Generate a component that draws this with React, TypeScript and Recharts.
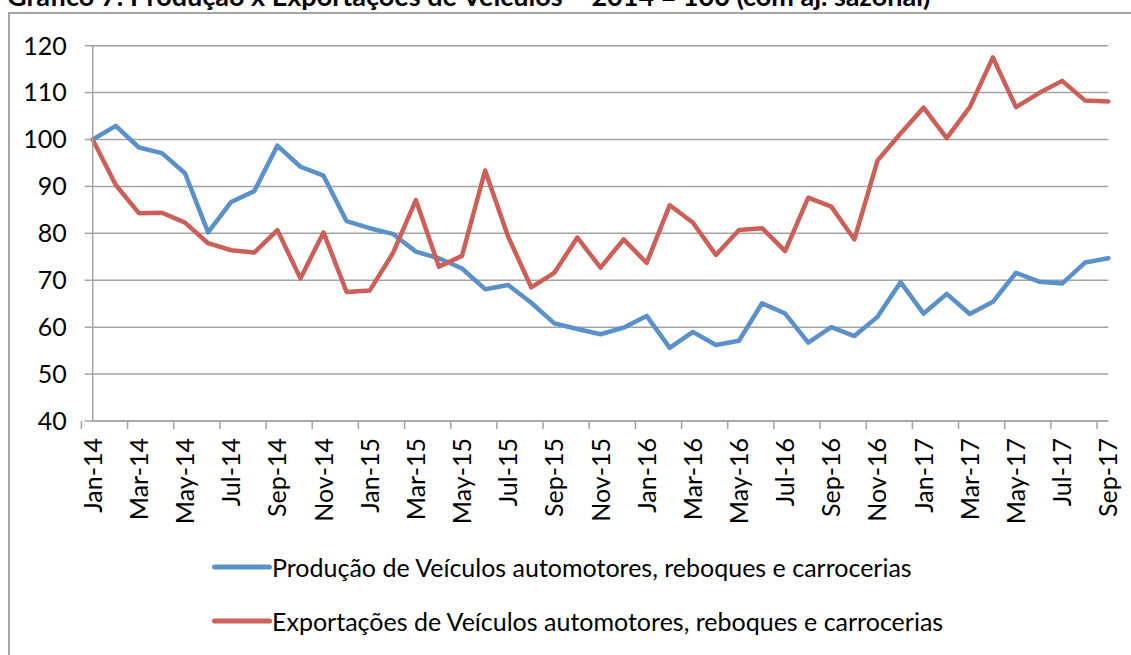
import React from 'react';
import { LineChart, Line, XAxis, YAxis, CartesianGrid, Legend } from 'recharts';

const months = [
  'Jan-14','Feb-14','Mar-14','Apr-14','May-14','Jun-14','Jul-14','Aug-14','Sep-14','Oct-14','Nov-14','Dec-14',
  'Jan-15','Feb-15','Mar-15','Apr-15','May-15','Jun-15','Jul-15','Aug-15','Sep-15','Oct-15','Nov-15','Dec-15',
  'Jan-16','Feb-16','Mar-16','Apr-16','May-16','Jun-16','Jul-16','Aug-16','Sep-16','Oct-16','Nov-16','Dec-16',
  'Jan-17','Feb-17','Mar-17','Apr-17','May-17','Jun-17','Jul-17','Aug-17','Sep-17',
];

const producao = [
  100, 102.9, 98.3, 97.1, 92.8, 80.2, 86.7, 89.0, 98.7, 94.2, 92.3, 82.6,
  81.1, 79.9, 76.1, 74.7, 72.5, 68.1, 69.0, 65.2, 60.8, 59.6, 58.5, 59.9,
  62.4, 55.6, 59.0, 56.2, 57.1, 65.1, 62.9, 56.7, 60.0, 58.1, 62.2, 69.6,
  62.9, 67.1, 62.8, 65.4, 71.6, 69.7, 69.3, 73.8, 74.7,
];

const exportacoes = [
  100, 90.3, 84.3, 84.4, 82.3, 77.9, 76.4, 75.9, 80.7, 70.4, 80.2, 67.5,
  67.8, 75.7, 87.1, 72.9, 75.2, 93.4, 79.3, 68.5, 71.6, 79.1, 72.7, 78.7,
  73.7, 86.0, 82.3, 75.4, 80.7, 81.1, 76.2, 87.6, 85.7, 78.7, 95.5, 101.3,
  106.8, 100.3, 106.9, 117.5, 106.9, 109.9, 112.5, 108.3, 108.1,
];

const yTicks = [40, 50, 60, 70, 80, 90, 100, 110, 120];

const seriesKeys = ['producao', 'exportacoes'];
const seriesNames: Record<string, string> = {
  producao: 'Produção de Veículos automotores, reboques e carrocerias',
  exportacoes: 'Exportações de Veículos automotores, reboques e carrocerias',
};

const title = 'Gráfico 7: Produção x Exportações de Veículos – 2014 = 100 (com aj. sazonal)';

const data = months.map((m, i) => ({
  month: m,
  producao: producao[i],
  exportacoes: exportacoes[i],
}));

const FONT = 'Lato, "Open Sans", sans-serif';
const FS = 25;
const GRID = '#a3a3a3';
const BLUE = '#5A91CB';
const RED = '#CC6058';

const CHART_W = 1131;
const CHART_H = 655;
const MARGIN = { top: 45.7, right: 22.7, left: 0, bottom: 134 };
const Y_W = 92.7;

const XTick = (props: any) => {
  const { x, y, payload } = props;
  const plotW = CHART_W - MARGIN.right - Y_W;
  const half = payload && typeof payload.offset === 'number' && payload.offset > 0 ? payload.offset : plotW / months.length / 2;
  return (
    <g>
      <line x1={x - half} y1={y} x2={x - half} y2={y + 8} stroke={GRID} strokeWidth={1.5} />
      <text
        x={0}
        y={0}
        transform={`translate(${x},${y + 17}) rotate(-90)`}
        textAnchor="end"
        dy="0.36em"
        fill="#000"
        fontSize={FS}
        fontFamily={FONT}
      >
        {payload.value}
      </text>
    </g>
  );
};

const LegendContent = (props: any) => {
  const payload = [...(props.payload || [])].sort(
    (a: any, b: any) => seriesKeys.indexOf(a.dataKey) - seriesKeys.indexOf(b.dataKey)
  );
  return (
    <div style={{ fontFamily: FONT, fontSize: FS, color: '#000' }}>
      {payload.map((entry: any) => (
        <div key={entry.value} style={{ display: 'flex', alignItems: 'center', height: 54 }}>
          <svg width={60} height={10} style={{ display: 'block' }}>
            <line x1={2.5} y1={5} x2={57.5} y2={5} stroke={entry.color} strokeWidth={5} strokeLinecap="round" />
          </svg>
          <span style={{ whiteSpace: 'nowrap' }}>{entry.value}</span>
        </div>
      ))}
    </div>
  );
};

export default function App() {
  return (
    <div style={{ position: 'fixed', left: 0, top: 0, width: CHART_W, height: CHART_H, overflow: 'hidden', background: '#fff' }}>
      <div
        style={{
          position: 'absolute',
          left: 8,
          top: 12,
          width: 1300,
          height: 800,
          border: '2px solid #a5a5a5',
          boxSizing: 'border-box',
        }}
      />
      <div
        style={{
          position: 'absolute',
          left: 7,
          top: -18.5,
          fontFamily: FONT,
          fontWeight: 'bold',
          fontSize: 27,
          lineHeight: '27px',
          whiteSpace: 'nowrap',
          color: '#000',
        }}
      >
        {title}
      </div>
      <div style={{ position: 'absolute', left: 0, top: 0 }}>
        <LineChart width={CHART_W} height={CHART_H} data={data} margin={MARGIN}>
          <CartesianGrid vertical={false} stroke={GRID} strokeWidth={1.5} />
          <XAxis
            dataKey="month"
            interval={1}
            height={100}
            tickSize={0}
            tickMargin={0}
            tickLine={false}
            axisLine={{ stroke: GRID, strokeWidth: 1.5 }}
            tick={<XTick />}
          />
          <YAxis
            width={Y_W}
            domain={[40, 120]}
            ticks={yTicks}
            interval={0}
            tickSize={8}
            tickMargin={18}
            tickLine={{ stroke: GRID, strokeWidth: 1.5 }}
            axisLine={{ stroke: GRID, strokeWidth: 1.5 }}
            tick={{ fill: '#000', fontSize: FS, fontFamily: FONT }}
          />
          <Legend
            layout="vertical"
            align="center"
            verticalAlign="middle"
            content={<LegendContent />}
            wrapperStyle={{ position: 'absolute', left: 212, top: 540, width: 900 }}
          />
          <Line
            type="linear"
            dataKey="producao"
            name={seriesNames.producao}
            stroke={BLUE}
            strokeWidth={4.5}
            strokeLinejoin="round"
            strokeLinecap="round"
            dot={false}
            activeDot={false}
            isAnimationActive={false}
          />
          <Line
            type="linear"
            dataKey="exportacoes"
            name={seriesNames.exportacoes}
            stroke={RED}
            strokeWidth={4.5}
            strokeLinejoin="round"
            strokeLinecap="round"
            dot={false}
            activeDot={false}
            isAnimationActive={false}
          />
        </LineChart>
      </div>
    </div>
  );
}
